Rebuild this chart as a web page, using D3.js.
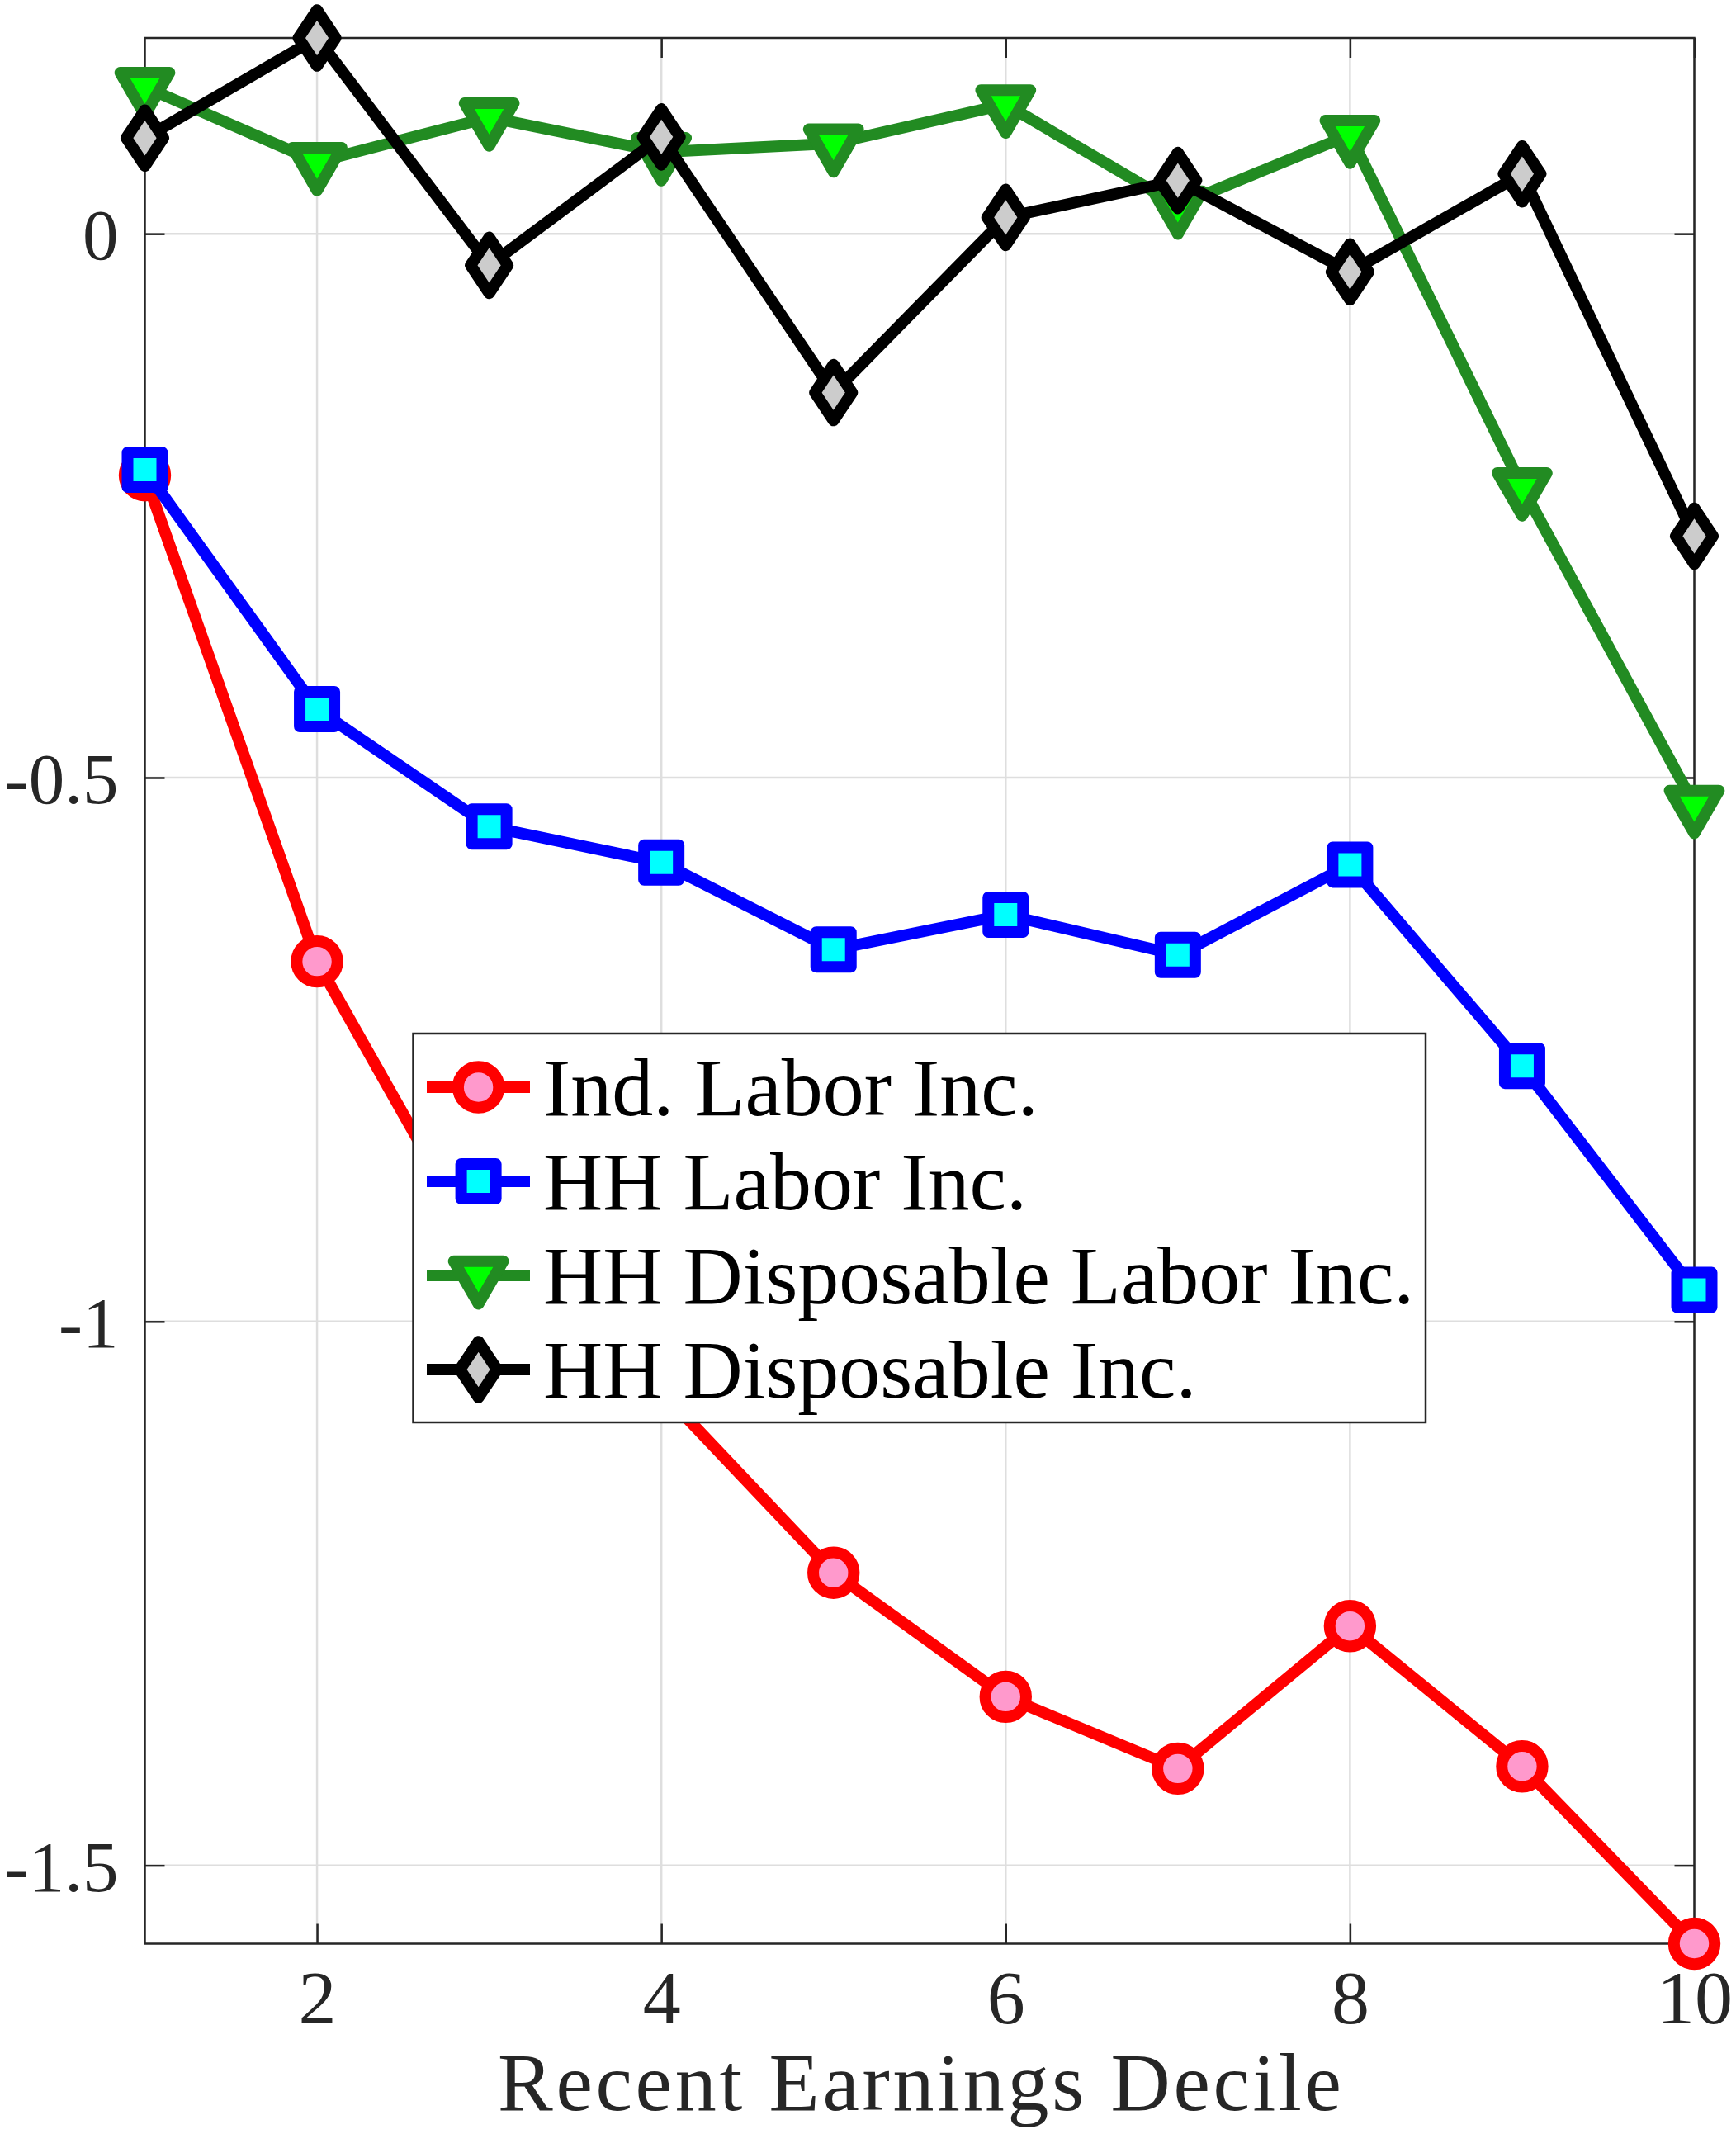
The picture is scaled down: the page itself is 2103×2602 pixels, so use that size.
<!DOCTYPE html>
<html>
<head>
<meta charset="utf-8">
<script src="https://cdn.jsdelivr.net/npm/d3@7"></script>
<style>
  html, body { margin: 0; padding: 0; background: #ffffff; }
  svg { display: block; }
  text { font-family: "Liberation Serif", "Times New Roman", serif; }
</style>
</head>
<body>
<div id="chart"></div>
<script>
// ---------- data ----------
const deciles = [1, 2, 3, 4, 5, 6, 7, 8, 9, 10];
const indLaborInc = [-0.222, -0.669, -0.949, -1.064, -1.231, -1.345, -1.411, -1.280, -1.409, -1.572];
const hhLaborInc = [-0.217, -0.437, -0.545, -0.578, -0.658, -0.626, -0.663, -0.580, -0.765, -0.971];
const hhDispLaborInc = [0.135, 0.066, 0.107, 0.075, 0.083, 0.119, 0.026, 0.091, -0.233, -0.525];
const hhDispInc = [0.088, 0.180, -0.029, 0.089, -0.146, 0.015, 0.049, -0.035, 0.055, -0.278];

const seriesNames = ["Ind. Labor Inc.", "HH Labor Inc.", "HH Disposable Labor Inc.", "HH Disposable Inc."];
const xTickValues = [2, 4, 6, 8, 10];
const xTickLabels = ["2", "4", "6", "8", "10"];
const yTickValues = [-1.5, -1, -0.5, 0];
const yTickLabels = ["-1.5", "-1", "-0.5", "0"];
const xAxisLabel = "Recent Earnings Decile";

// ---------- styles ----------
const styles = [
  { values: indLaborInc, stroke: "#ff0000", fill: "#ff99cc", marker: "circle" },
  { values: hhLaborInc, stroke: "#0000ff", fill: "#00ffff", marker: "square" },
  { values: hhDispLaborInc, stroke: "#228b22", fill: "#00ff00", marker: "triangleDown" },
  { values: hhDispInc, stroke: "#000000", fill: "#cccccc", marker: "diamond" }
];

const W = 2103, H = 2602;
const plot = { left: 175.5, right: 2052.5, top: 46, bottom: 2354.5 };
const LW = 14;       // line width
const MLW = 14;      // marker edge width
const axisColor = "#262626";
const gridColor = "#dedede";
const xTickFont = 92;
const yTickFont = 87;

const svg = d3.select("#chart").append("svg")
  .attr("width", W).attr("height", H)
  .attr("viewBox", `0 0 ${W} ${H}`);

svg.append("rect").attr("width", W).attr("height", H).attr("fill", "#ffffff");

const allVals = [].concat(indLaborInc, hhLaborInc, hhDispLaborInc, hhDispInc);
const x = d3.scaleLinear().domain(d3.extent(deciles)).range([plot.left, plot.right]);
const y = d3.scaleLinear().domain(d3.extent(allVals)).range([plot.bottom, plot.top]);

// ---------- grid ----------
const grid = svg.append("g");
grid.selectAll("line.gx").data(xTickValues).enter().append("line")
  .attr("x1", d => x(d)).attr("x2", d => x(d))
  .attr("y1", plot.top).attr("y2", plot.bottom)
  .attr("stroke", gridColor).attr("stroke-width", 2.5);
grid.selectAll("line.gy").data(yTickValues).enter().append("line")
  .attr("y1", d => y(d)).attr("y2", d => y(d))
  .attr("x1", plot.left).attr("x2", plot.right)
  .attr("stroke", gridColor).attr("stroke-width", 2.5);

// ---------- axes ----------
function styleAxis(g, fs) {
  g.select(".domain").remove();
  g.selectAll(".tick line").attr("stroke", axisColor).attr("stroke-width", 2.5);
  g.selectAll(".tick text")
    .attr("fill", axisColor)
    .attr("font-family", "'Liberation Serif', 'Times New Roman', serif")
    .attr("font-size", fs);
}

const xAxisB = d3.axisBottom(x).tickValues(xTickValues)
  .tickFormat((d, i) => xTickLabels[i]).tickSize(-24).tickSizeOuter(0).tickPadding(31);
svg.append("g").attr("transform", `translate(0,${plot.bottom})`).call(xAxisB).call(styleAxis, xTickFont);

const xAxisT = d3.axisTop(x).tickValues(xTickValues).tickFormat("").tickSize(-24).tickSizeOuter(0);
svg.append("g").attr("transform", `translate(0,${plot.top})`).call(xAxisT).call(styleAxis, xTickFont);

const yAxisL = d3.axisLeft(y).tickValues(yTickValues)
  .tickFormat((d, i) => yTickLabels[i]).tickSize(-24).tickSizeOuter(0).tickPadding(32);
const gyl = svg.append("g").attr("transform", `translate(${plot.left},0)`).call(yAxisL).call(styleAxis, yTickFont);
gyl.selectAll(".tick text").attr("dy", "0.35em");

const yAxisR = d3.axisRight(y).tickValues(yTickValues).tickFormat("").tickSize(-24).tickSizeOuter(0);
svg.append("g").attr("transform", `translate(${plot.right},0)`).call(yAxisR).call(styleAxis, yTickFont);

// box
svg.append("rect")
  .attr("x", plot.left).attr("y", plot.top)
  .attr("width", plot.right - plot.left).attr("height", plot.bottom - plot.top)
  .attr("fill", "none").attr("stroke", axisColor).attr("stroke-width", 2.5);

// x label
svg.append("text")
  .attr("x", (plot.left + plot.right) / 2).attr("y", 2556)
  .attr("text-anchor", "middle")
  .attr("font-size", 100)
  .attr("fill", axisColor)
  .attr("textLength", 1022).attr("lengthAdjust", "spacing")
  .text(xAxisLabel);

// ---------- markers ----------
function markerPath(type) {
  switch (type) {
    case "circle": {
      const r = 24.7;
      return `M${-r},0A${r},${r} 0 1,0 ${r},0A${r},${r} 0 1,0 ${-r},0Z`;
    }
    case "square": {
      const h = 21;
      return `M${-h},${-h}L${h},${-h}L${h},${h}L${-h},${h}Z`;
    }
    case "triangleDown": {
      const R = 34.5;
      return `M${-R * 0.866},${-R / 2}L${R * 0.866},${-R / 2}L0,${R}Z`;
    }
    case "diamond": {
      const a = 22.5, b = 33.8;
      return `M0,${-b}L${a},0L0,${b}L${-a},0Z`;
    }
  }
}

const line = d3.line().x((d, i) => x(deciles[i])).y(d => y(d));

styles.forEach(s => {
  const g = svg.append("g");
  g.append("path")
    .attr("d", line(s.values))
    .attr("fill", "none")
    .attr("stroke", s.stroke)
    .attr("stroke-width", LW)
    .attr("stroke-linejoin", "round")
    .attr("stroke-linecap", "butt");
  g.selectAll("path.m").data(s.values).enter().append("path")
    .attr("class", "m")
    .attr("transform", (d, i) => `translate(${x(deciles[i])},${y(d)})`)
    .attr("d", markerPath(s.marker))
    .attr("fill", s.fill)
    .attr("stroke", s.stroke)
    .attr("stroke-width", MLW)
    .attr("stroke-linejoin", "round");
});

// ---------- legend ----------
const leg = { x0: 500.5, x1: 1727, y0: 1252, y1: 1723 };
const lg = svg.append("g");
lg.append("rect")
  .attr("x", leg.x0).attr("y", leg.y0)
  .attr("width", leg.x1 - leg.x0).attr("height", leg.y1 - leg.y0)
  .attr("fill", "#ffffff").attr("stroke", axisColor).attr("stroke-width", 2.5);

const rowY = i => 1317 + i * 114;
styles.forEach((s, i) => {
  const cy = rowY(i);
  lg.append("line")
    .attr("x1", 517).attr("x2", 642).attr("y1", cy).attr("y2", cy)
    .attr("stroke", s.stroke).attr("stroke-width", LW);
  lg.append("path")
    .attr("transform", `translate(579.6,${cy})`)
    .attr("d", markerPath(s.marker))
    .attr("fill", s.fill).attr("stroke", s.stroke)
    .attr("stroke-width", MLW).attr("stroke-linejoin", "round");
  lg.append("text")
    .attr("x", 658).attr("y", cy + 34)
    .attr("font-size", 100).attr("fill", "#000000")
    .text(seriesNames[i]);
});
</script>
</body>
</html>
